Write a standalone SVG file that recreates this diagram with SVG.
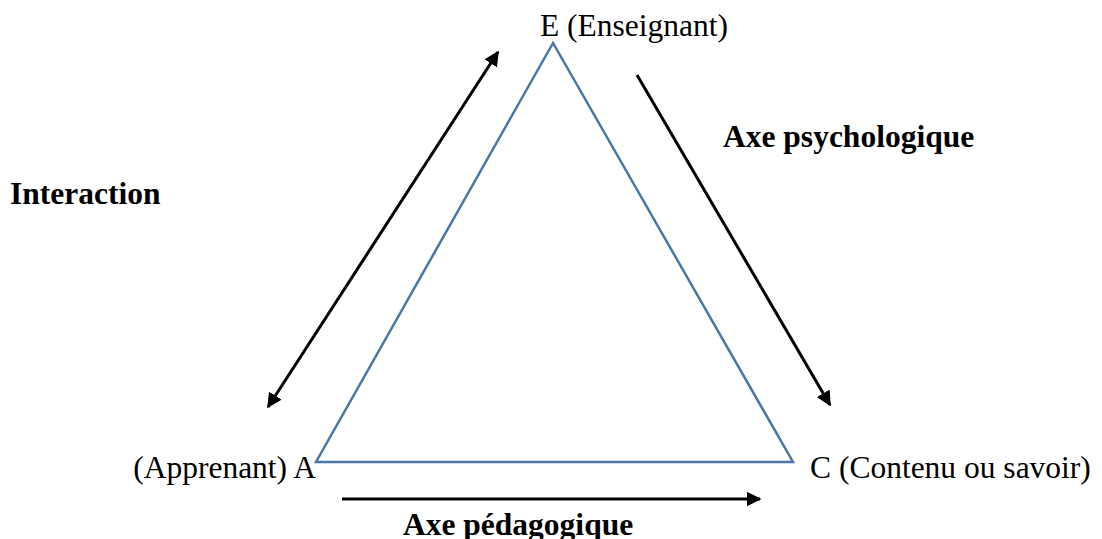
<svg xmlns="http://www.w3.org/2000/svg" width="1102" height="539" viewBox="0 0 1102 539">
<style>
.t{font-family:"Liberation Serif","Times New Roman",serif;font-size:31.5px;fill:#000}
.b{font-weight:bold}
.ar{stroke:#000;stroke-width:3;fill:none}
</style>
<defs>
<marker id="ahb" viewBox="0 0 10 10" refX="9" refY="5" markerWidth="15" markerHeight="15" markerUnits="userSpaceOnUse" orient="auto-start-reverse">
<path d="M0,0 L10,5 L0,10 z" fill="#000"/>
</marker>
</defs>
<rect width="1102" height="539" fill="#fff"/>
<g id="triangle">
<polygon points="553,43 316,462 793,462" fill="none" stroke="#4a76a8" stroke-width="2.5"/>
</g>
<g id="connectors">
<line class="ar" x1="268" y1="407" x2="498" y2="52" marker-start="url(#ahb)" marker-end="url(#ahb)"/>
<line class="ar" x1="637" y1="75" x2="830" y2="405" marker-end="url(#ahb)"/>
<line class="ar" x1="342" y1="499" x2="760" y2="499" marker-end="url(#ahb)"/>
</g>
<g id="node-E"><text class="t" x="540" y="36">E (Enseignant)</text></g>
<g id="node-A"><text class="t" x="316" y="478" text-anchor="end">(Apprenant) A</text></g>
<g id="node-C"><text class="t" x="810" y="478">C (Contenu ou savoir)</text></g>
<g id="label-interaction"><text class="t b" x="10" y="204">Interaction</text></g>
<g id="label-psy"><text class="t b" x="723" y="147">Axe psychologique</text></g>
<g id="label-peda"><text class="t b" x="403" y="535">Axe pédagogique</text></g>
</svg>
